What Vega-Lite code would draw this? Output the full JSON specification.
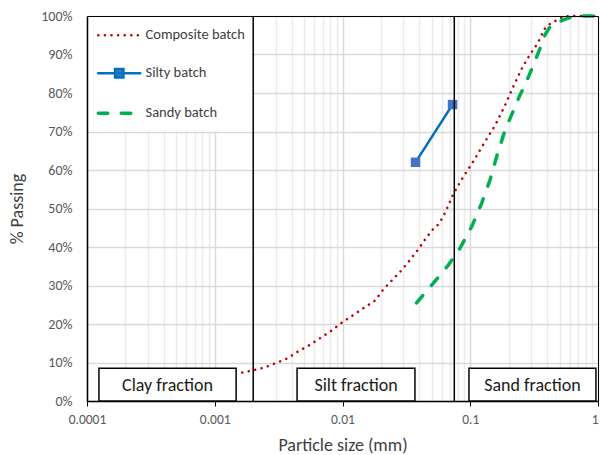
{
  "$schema": "https://vega.github.io/schema/vega-lite/v6.json",
  "width": 511,
  "height": 385,
  "autosize": {"type": "none"},
  "padding": {"left": 87, "top": 16, "right": 2, "bottom": 54},
  "background": "white",
  "config": {
    "font": "Carlito, Lato, sans-serif",
    "view": {"stroke": null}
  },
  "datasets": {
    "curves": [
      {"batch": "Composite batch", "size": 0.00164, "passing": 7.4},
      {"batch": "Composite batch", "size": 0.00195, "passing": 7.9},
      {"batch": "Composite batch", "size": 0.00245, "passing": 8.7},
      {"batch": "Composite batch", "size": 0.00298, "passing": 9.8},
      {"batch": "Composite batch", "size": 0.00366, "passing": 11.0},
      {"batch": "Composite batch", "size": 0.00446, "passing": 12.8},
      {"batch": "Composite batch", "size": 0.0055, "passing": 14.5},
      {"batch": "Composite batch", "size": 0.00675, "passing": 16.4},
      {"batch": "Composite batch", "size": 0.00813, "passing": 18.2},
      {"batch": "Composite batch", "size": 0.00991, "passing": 20.4},
      {"batch": "Composite batch", "size": 0.0121, "passing": 22.3},
      {"batch": "Composite batch", "size": 0.0147, "passing": 24.2},
      {"batch": "Composite batch", "size": 0.018, "passing": 26.1},
      {"batch": "Composite batch", "size": 0.0209, "passing": 29.0},
      {"batch": "Composite batch", "size": 0.0245, "passing": 31.4},
      {"batch": "Composite batch", "size": 0.0287, "passing": 33.8},
      {"batch": "Composite batch", "size": 0.0333, "passing": 36.4},
      {"batch": "Composite batch", "size": 0.0388, "passing": 39.2},
      {"batch": "Composite batch", "size": 0.0448, "passing": 42.2},
      {"batch": "Composite batch", "size": 0.0514, "passing": 44.7},
      {"batch": "Composite batch", "size": 0.0572, "passing": 46.1},
      {"batch": "Composite batch", "size": 0.0634, "passing": 48.8},
      {"batch": "Composite batch", "size": 0.0733, "passing": 53.6},
      {"batch": "Composite batch", "size": 0.0862, "passing": 57.7},
      {"batch": "Composite batch", "size": 0.106, "passing": 62.3},
      {"batch": "Composite batch", "size": 0.129, "passing": 67.1},
      {"batch": "Composite batch", "size": 0.156, "passing": 71.5},
      {"batch": "Composite batch", "size": 0.185, "passing": 76.4},
      {"batch": "Composite batch", "size": 0.216, "passing": 81.5},
      {"batch": "Composite batch", "size": 0.257, "passing": 86.8},
      {"batch": "Composite batch", "size": 0.294, "passing": 90.0},
      {"batch": "Composite batch", "size": 0.337, "passing": 92.9},
      {"batch": "Composite batch", "size": 0.38, "passing": 96.6},
      {"batch": "Composite batch", "size": 0.426, "passing": 98.1},
      {"batch": "Composite batch", "size": 0.48, "passing": 99.0},
      {"batch": "Composite batch", "size": 0.53, "passing": 99.7},
      {"batch": "Composite batch", "size": 0.6, "passing": 100},
      {"batch": "Composite batch", "size": 1, "passing": 100},
      {"batch": "Silty batch", "size": 0.0373, "passing": 62},
      {"batch": "Silty batch", "size": 0.0727, "passing": 77},
      {"batch": "Sandy batch", "size": 0.038, "passing": 25.5},
      {"batch": "Sandy batch", "size": 0.0514, "passing": 30.6},
      {"batch": "Sandy batch", "size": 0.0673, "passing": 35.3},
      {"batch": "Sandy batch", "size": 0.075, "passing": 37.5},
      {"batch": "Sandy batch", "size": 0.0832, "passing": 39.7},
      {"batch": "Sandy batch", "size": 0.1027, "passing": 45.3},
      {"batch": "Sandy batch", "size": 0.1229, "passing": 51.4},
      {"batch": "Sandy batch", "size": 0.1427, "passing": 57.4},
      {"batch": "Sandy batch", "size": 0.1611, "passing": 63.5},
      {"batch": "Sandy batch", "size": 0.1837, "passing": 69.5},
      {"batch": "Sandy batch", "size": 0.2048, "passing": 73.4},
      {"batch": "Sandy batch", "size": 0.2241, "passing": 76.4},
      {"batch": "Sandy batch", "size": 0.2452, "passing": 79.5},
      {"batch": "Sandy batch", "size": 0.2683, "passing": 82.1},
      {"batch": "Sandy batch", "size": 0.2899, "passing": 84.7},
      {"batch": "Sandy batch", "size": 0.3082, "passing": 86.8},
      {"batch": "Sandy batch", "size": 0.3313, "passing": 89.4},
      {"batch": "Sandy batch", "size": 0.3516, "passing": 91.6},
      {"batch": "Sandy batch", "size": 0.3847, "passing": 95.1},
      {"batch": "Sandy batch", "size": 0.4211, "passing": 97.2},
      {"batch": "Sandy batch", "size": 0.535, "passing": 99.0},
      {"batch": "Sandy batch", "size": 0.66, "passing": 100},
      {"batch": "Sandy batch", "size": 1, "passing": 100}
    ],
    "bounds": [{"size": 0.002}, {"size": 0.075}],
    "fractions": [
      {"label": "Clay fraction", "from": 0.000124, "to": 0.00147},
      {"label": "Silt fraction", "from": 0.00441, "to": 0.0369},
      {"label": "Sand fraction", "from": 0.0977, "to": 0.964}
    ]
  },
  "resolve": {"axis": {"x": "independent", "y": "independent"}},
  "layer": [
    {
      "data": {"values": [{}]},
      "mark": {"type": "rect", "fill": "white", "strokeWidth": 0},
      "encoding": {
        "x": {
          "datum": 0.0001, "type": "quantitative",
          "scale": {"type": "log", "domain": [0.0001, 1], "nice": false},
          "axis": {
            "orient": "bottom", "zindex": 0,
            "values": [0.0002, 0.0003, 0.0004, 0.0005, 0.0006, 0.0007, 0.0008, 0.0009, 0.002, 0.003, 0.004, 0.005, 0.006, 0.007, 0.008, 0.009, 0.02, 0.03, 0.04, 0.05, 0.06, 0.07, 0.08, 0.09, 0.2, 0.3, 0.4, 0.5, 0.6, 0.7, 0.8, 0.9],
            "grid": true, "gridColor": "#EBEBEB", "gridWidth": 1.5,
            "labels": false, "ticks": false, "domain": false, "title": null
          }
        },
        "x2": {"datum": 0.002},
        "y": {
          "datum": 70, "type": "quantitative",
          "scale": {"domain": [0, 100], "nice": false},
          "axis": {
            "orient": "left", "zindex": 0,
            "values": [0, 10, 20, 30, 40, 50, 60, 70, 80, 90, 100],
            "labelExpr": "datum.value + '%'",
            "grid": true, "gridColor": "#D9D9D9", "gridWidth": 1.5,
            "domain": false, "ticks": false, "tickSize": 0,
            "labelFontSize": 14, "labelColor": "#595959", "labelPadding": 15, "labelOverlap": false,
            "title": "% Passing", "titleFontSize": 18, "titleFontWeight": "normal", "titleColor": "#404040", "titlePadding": 14
          }
        },
        "y2": {"datum": 100}
      }
    },
    {
      "data": {"name": "curves"},
      "transform": [{"filter": "datum.batch === 'Composite batch'"}],
      "mark": {"type": "line", "strokeWidth": 2.5, "strokeCap": "round"},
      "encoding": {
        "x": {
          "field": "size", "type": "quantitative",
          "scale": {"type": "log", "domain": [0.0001, 1], "nice": false},
          "axis": {
            "orient": "bottom", "zindex": 0,
            "values": [0.0001, 0.001, 0.01, 0.1, 1],
            "format": "~g",
            "grid": true, "gridColor": "#D9D9D9", "gridWidth": 1.5,
            "domain": true, "domainColor": "#000000", "domainWidth": 1.5,
            "ticks": true, "tickColor": "#000000", "tickSize": 5, "tickWidth": 1,
            "labelFontSize": 13.5, "labelColor": "#595959", "labelPadding": 6,
            "labelAlign": {"condition": {"test": "datum.value == 1", "value": "right"}, "value": "center"},
            "labelFlush": false, "labelOverlap": false,
            "title": "Particle size (mm)", "titleFontSize": 18, "titleFontWeight": "normal",
            "titleColor": "#404040", "titlePadding": 11
          }
        },
        "y": {
          "field": "passing", "type": "quantitative",
          "axis": {"orient": "left", "zindex": 1, "domain": true, "domainColor": "#000000", "domainWidth": 1.5, "labels": false, "ticks": false, "grid": false, "title": null}
        },
        "color": {
          "field": "batch", "type": "nominal",
          "scale": {"domain": ["Composite batch", "Silty batch", "Sandy batch"], "range": ["#C00000", "#0070C0", "#00B050"]},
          "legend": {
            "orient": "none", "legendX": 0, "legendY": 0, "title": null,
            "padding": 12, "rowPadding": 22,
            "symbolType": "stroke", "symbolSize": 1764, "symbolStrokeWidth": 2.5, "symbolOffset": 13,
            "labelOffset": 19, "labelFontSize": 14.5, "labelColor": "#404040",
            "encode": {"symbols": {"update": {
              "shape": {"signal": "datum.value === 'Silty batch' ? 'M-1,0H1M-0.2,-0.2H0.2V0.2H-0.2Z' : 'M-1,0H1'"},
              "fill": {"signal": "datum.value === 'Silty batch' ? '#4472C4' : 'transparent'"},
              "strokeWidth": {"signal": "datum.value === 'Sandy batch' ? 3.5 : 2.5"},
              "strokeCap": {"value": "round"}
            }}}
          }
        },
        "strokeDash": {
          "field": "batch", "type": "nominal",
          "scale": {"domain": ["Composite batch", "Silty batch", "Sandy batch"], "range": [[0.1, 6.5], [1, 0], [9.5, 13.5]]},
          "legend": {
            "orient": "none", "legendX": 0, "legendY": 0, "title": null,
            "padding": 12, "rowPadding": 22,
            "symbolType": "stroke", "symbolSize": 1764, "symbolStrokeWidth": 2.5, "symbolOffset": 13,
            "labelOffset": 19, "labelFontSize": 14.5, "labelColor": "#404040",
            "encode": {"symbols": {"update": {
              "shape": {"signal": "datum.value === 'Silty batch' ? 'M-1,0H1M-0.2,-0.2H0.2V0.2H-0.2Z' : 'M-1,0H1'"},
              "fill": {"signal": "datum.value === 'Silty batch' ? '#4472C4' : 'transparent'"},
              "strokeWidth": {"signal": "datum.value === 'Sandy batch' ? 3.5 : 2.5"},
              "strokeCap": {"value": "round"}
            }}}
          }
        }
      }
    },
    {
      "data": {"name": "curves"},
      "transform": [{"filter": "datum.batch === 'Silty batch'"}],
      "mark": {"type": "line", "strokeWidth": 2.5, "strokeCap": "round"},
      "encoding": {
        "x": {
          "field": "size", "type": "quantitative", "scale": {"type": "log", "domain": [0.0001, 1], "nice": false},
          "axis": {"orient": "top", "zindex": 1, "domain": true, "domainColor": "#000000", "domainWidth": 1, "labels": false, "ticks": false, "grid": false, "title": null}
        },
        "y": {
          "field": "passing", "type": "quantitative",
          "axis": {"orient": "right", "zindex": 1, "domain": true, "domainColor": "#000000", "domainWidth": 1, "labels": false, "ticks": false, "grid": false, "title": null}
        },
        "color": {"field": "batch", "type": "nominal"},
        "strokeDash": {"field": "batch", "type": "nominal"}
      }
    },
    {
      "data": {"name": "curves"},
      "transform": [{"filter": "datum.batch === 'Sandy batch'"}],
      "mark": {"type": "line", "strokeWidth": 3.5, "strokeCap": "round"},
      "encoding": {
        "x": {"field": "size", "type": "quantitative", "scale": {"type": "log", "domain": [0.0001, 1], "nice": false}, "axis": null},
        "y": {"field": "passing", "type": "quantitative", "axis": null},
        "color": {"field": "batch", "type": "nominal"},
        "strokeDash": {"field": "batch", "type": "nominal"}
      }
    },
    {
      "data": {"name": "curves"},
      "transform": [{"filter": "datum.batch === 'Silty batch'"}],
      "mark": {"type": "point", "shape": "square", "filled": true, "size": 90, "color": "#4472C4", "opacity": 1},
      "encoding": {
        "x": {"field": "size", "type": "quantitative", "scale": {"type": "log", "domain": [0.0001, 1], "nice": false}, "axis": null},
        "y": {"field": "passing", "type": "quantitative", "axis": null}
      }
    },
    {
      "data": {"name": "bounds"},
      "mark": {"type": "rule", "color": "#000000", "strokeWidth": 1.5},
      "encoding": {
        "x": {"field": "size", "type": "quantitative", "scale": {"type": "log", "domain": [0.0001, 1], "nice": false}, "axis": null}
      }
    },
    {
      "data": {"name": "fractions"},
      "mark": {"type": "rect", "fill": "white", "stroke": "#000000", "strokeWidth": 1.5},
      "encoding": {
        "x": {"field": "from", "type": "quantitative", "scale": {"type": "log", "domain": [0.0001, 1], "nice": false}, "axis": null},
        "x2": {"field": "to"},
        "y": {"datum": 0, "axis": null},
        "y2": {"datum": 8.5}
      }
    },
    {
      "data": {"name": "fractions"},
      "transform": [{"calculate": "sqrt(datum.from * datum.to)", "as": "mid"}],
      "mark": {"type": "text", "fontSize": 18, "color": "#1A1A1A", "baseline": "middle", "align": "center"},
      "encoding": {
        "x": {"field": "mid", "type": "quantitative", "scale": {"type": "log", "domain": [0.0001, 1], "nice": false}, "axis": null},
        "y": {"datum": 3.9, "axis": null},
        "text": {"field": "label"}
      }
    }
  ]
}
